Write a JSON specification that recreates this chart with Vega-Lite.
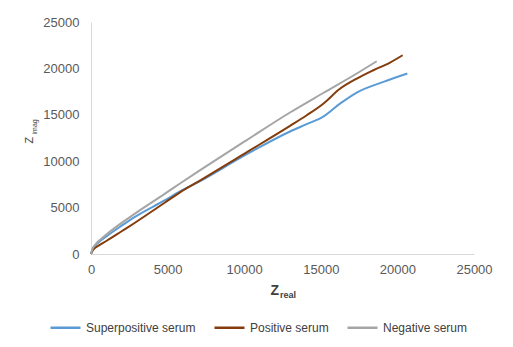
{
  "$schema": "https://vega.github.io/schema/vega-lite/v6.json",
  "width": 383,
  "height": 232,
  "autosize": {"type": "none"},
  "padding": {"left": 91, "top": 22, "right": 39, "bottom": 93},
  "background": "white",
  "config": {
    "view": {"stroke": null},
    "font": "Liberation Sans",
    "axis": {
      "grid": false,
      "ticks": false,
      "tickSize": 0,
      "domainColor": "#D9D9D9",
      "domainWidth": 1,
      "labelFont": "Liberation Sans",
      "labelFontSize": 13,
      "labelColor": "#595959",
      "titleFont": "Liberation Sans",
      "titleColor": "#404040"
    }
  },
  "data": {
    "values": [
      {"series": "Superpositive serum", "Zreal": 0, "Zimag": 0},
      {"series": "Superpositive serum", "Zreal": 100, "Zimag": 500},
      {"series": "Superpositive serum", "Zreal": 300, "Zimag": 950},
      {"series": "Superpositive serum", "Zreal": 600, "Zimag": 1400},
      {"series": "Superpositive serum", "Zreal": 1000, "Zimag": 1900},
      {"series": "Superpositive serum", "Zreal": 2000, "Zimag": 3050},
      {"series": "Superpositive serum", "Zreal": 2870, "Zimag": 4000},
      {"series": "Superpositive serum", "Zreal": 4830, "Zimag": 5800},
      {"series": "Superpositive serum", "Zreal": 5810, "Zimag": 6750},
      {"series": "Superpositive serum", "Zreal": 7000, "Zimag": 7750},
      {"series": "Superpositive serum", "Zreal": 10000, "Zimag": 10600},
      {"series": "Superpositive serum", "Zreal": 12990, "Zimag": 13200},
      {"series": "Superpositive serum", "Zreal": 14080, "Zimag": 14000},
      {"series": "Superpositive serum", "Zreal": 15160, "Zimag": 14800},
      {"series": "Superpositive serum", "Zreal": 16250, "Zimag": 16200},
      {"series": "Superpositive serum", "Zreal": 17350, "Zimag": 17400},
      {"series": "Superpositive serum", "Zreal": 19090, "Zimag": 18550},
      {"series": "Superpositive serum", "Zreal": 20650, "Zimag": 19450},
      {"series": "Positive serum", "Zreal": 0, "Zimag": 0},
      {"series": "Positive serum", "Zreal": 100, "Zimag": 350},
      {"series": "Positive serum", "Zreal": 300, "Zimag": 700},
      {"series": "Positive serum", "Zreal": 600, "Zimag": 1000},
      {"series": "Positive serum", "Zreal": 1000, "Zimag": 1400},
      {"series": "Positive serum", "Zreal": 2000, "Zimag": 2450},
      {"series": "Positive serum", "Zreal": 2870, "Zimag": 3370},
      {"series": "Positive serum", "Zreal": 4830, "Zimag": 5550},
      {"series": "Positive serum", "Zreal": 5810, "Zimag": 6650},
      {"series": "Positive serum", "Zreal": 7000, "Zimag": 7800},
      {"series": "Positive serum", "Zreal": 10000, "Zimag": 10800},
      {"series": "Positive serum", "Zreal": 12990, "Zimag": 13800},
      {"series": "Positive serum", "Zreal": 14080, "Zimag": 14950},
      {"series": "Positive serum", "Zreal": 15160, "Zimag": 16200},
      {"series": "Positive serum", "Zreal": 16250, "Zimag": 17800},
      {"series": "Positive serum", "Zreal": 17350, "Zimag": 18900},
      {"series": "Positive serum", "Zreal": 18430, "Zimag": 19800},
      {"series": "Positive serum", "Zreal": 19520, "Zimag": 20630},
      {"series": "Positive serum", "Zreal": 20340, "Zimag": 21420},
      {"series": "Negative serum", "Zreal": 0, "Zimag": 0},
      {"series": "Negative serum", "Zreal": 100, "Zimag": 550},
      {"series": "Negative serum", "Zreal": 300, "Zimag": 1050},
      {"series": "Negative serum", "Zreal": 600, "Zimag": 1550},
      {"series": "Negative serum", "Zreal": 1000, "Zimag": 2100},
      {"series": "Negative serum", "Zreal": 2000, "Zimag": 3350},
      {"series": "Negative serum", "Zreal": 2870, "Zimag": 4350},
      {"series": "Negative serum", "Zreal": 4830, "Zimag": 6500},
      {"series": "Negative serum", "Zreal": 5810, "Zimag": 7600},
      {"series": "Negative serum", "Zreal": 7000, "Zimag": 8900},
      {"series": "Negative serum", "Zreal": 10000, "Zimag": 12100},
      {"series": "Negative serum", "Zreal": 12990, "Zimag": 15250},
      {"series": "Negative serum", "Zreal": 15160, "Zimag": 17350},
      {"series": "Negative serum", "Zreal": 17350, "Zimag": 19450},
      {"series": "Negative serum", "Zreal": 18650, "Zimag": 20770}
    ]
  },
  "layer": [
    {
      "mark": {"type": "line", "strokeWidth": 2, "interpolate": "monotone"},
      "encoding": {
        "x": {
          "field": "Zreal",
          "type": "quantitative",
          "scale": {"domain": [0, 25000], "nice": false},
          "axis": {
            "orient": "bottom",
            "values": [0, 5000, 10000, 15000, 20000, 25000],
            "format": "d",
            "labelPadding": 9,
            "labelFlush": false,
            "title": "Z",
            "titleFontSize": 14,
            "titleFontWeight": "bold",
            "titleX": 179,
            "titleY": 40,
            "titleAlign": "left",
            "titleBaseline": "alphabetic"
          }
        },
        "y": {
          "field": "Zimag",
          "type": "quantitative",
          "scale": {"domain": [0, 25000], "nice": false},
          "axis": {
            "orient": "left",
            "values": [0, 5000, 10000, 15000, 20000, 25000],
            "format": "d",
            "labelPadding": 12,
            "labelFlush": false,
            "title": "Z",
            "titleFontSize": 11,
            "titleFontWeight": "normal",
            "titleAngle": -90,
            "titleX": -59,
            "titleY": 121,
            "titleAlign": "left",
            "titleBaseline": "alphabetic"
          }
        },
        "color": {
          "field": "series",
          "type": "nominal",
          "scale": {
            "domain": ["Superpositive serum", "Positive serum", "Negative serum"],
            "range": ["#5B9BD5", "#843C0C", "#A5A5A5"]
          },
          "legend": {
            "title": null,
            "orient": "none",
            "direction": "horizontal",
            "legendX": -42,
            "legendY": 289,
            "symbolType": "stroke",
            "symbolSize": 900,
            "symbolStrokeWidth": 2.5,
            "labelFont": "Liberation Sans",
            "labelFontSize": 12,
            "labelColor": "#404040",
            "labelOffset": 4,
            "columnPadding": 13
          }
        }
      }
    },
    {
      "data": {"values": []},
      "mark": {"type": "rule"},
      "encoding": {
        "x": {
          "field": "Zreal",
          "type": "quantitative",
          "scale": {"domain": [0, 25000], "nice": false},
          "axis": {
            "orient": "bottom",
            "labels": false,
            "domain": false,
            "title": "real",
            "titleFontSize": 9,
            "titleFontWeight": "bold",
            "titleX": 188.5,
            "titleY": 43.5,
            "titleAlign": "left",
            "titleBaseline": "alphabetic"
          }
        },
        "y": {
          "field": "Zimag",
          "type": "quantitative",
          "scale": {"domain": [0, 25000], "nice": false},
          "axis": {
            "orient": "left",
            "labels": false,
            "domain": false,
            "title": "imag",
            "titleFontSize": 7,
            "titleFontWeight": "normal",
            "titleAngle": -90,
            "titleX": -55,
            "titleY": 112,
            "titleAlign": "left",
            "titleBaseline": "alphabetic"
          }
        }
      }
    }
  ],
  "resolve": {"axis": {"x": "independent", "y": "independent"}}
}
